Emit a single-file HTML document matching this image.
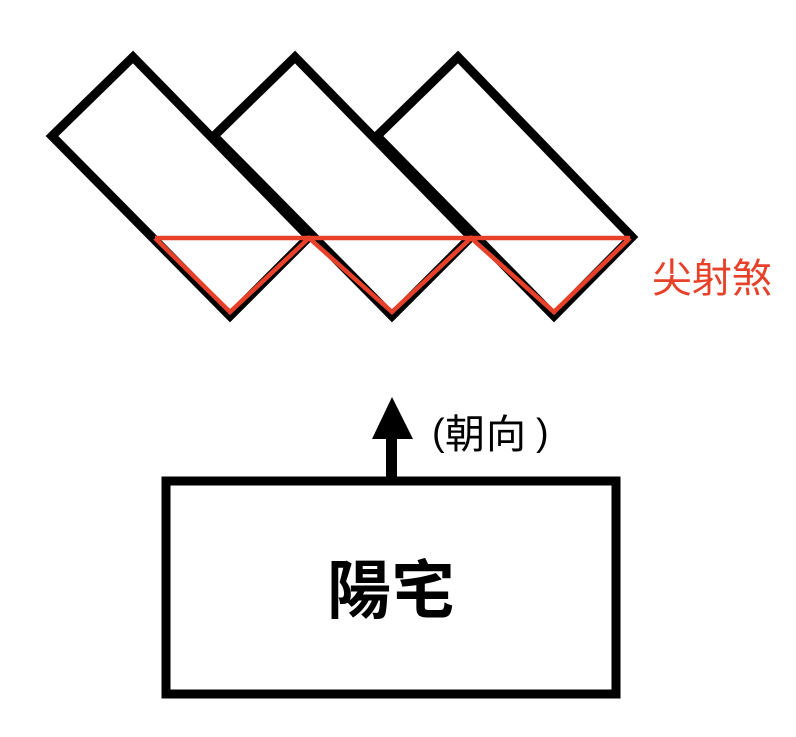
<!DOCTYPE html>
<html><head><meta charset="utf-8"><style>
html,body{margin:0;padding:0;background:#fff;}
</style></head><body>
<svg width="796" height="732" viewBox="0 0 796 732" xmlns="http://www.w3.org/2000/svg">
<g fill="#fff" stroke="#000" stroke-width="9" stroke-linejoin="miter">
<polygon points="133,57 52,136 230,316 309,237"/>
<polygon points="295,57 214,136 392,316 471,237"/>
<polygon points="458,57 377,136 554,316 632,237"/>
</g>
<g fill="none" stroke="#e8412a" stroke-width="4.5" stroke-linejoin="miter">
<line x1="155" y1="238" x2="630" y2="238"/>
<polyline points="155,238 230,312 309,238 392,312 471,238 554,312 630,238"/>
</g>
<text x="652" y="292" font-family="Noto Sans CJK TC, sans-serif" font-size="40" fill="#e8412a">尖射煞</text>
<rect x="386" y="432" width="11" height="50" fill="#000"/>
<polygon points="372,439 413,439 392,397" fill="#000"/>
<g font-family="Liberation Sans, sans-serif" font-size="38" fill="#000">
<text x="432" y="445">(</text>
<text x="536" y="445">)</text>
</g>
<g font-family="Noto Sans CJK TC, sans-serif" font-size="40" fill="#000">
<text x="445" y="448">朝</text>
<text x="486" y="448">向</text>
</g>
<rect x="166" y="481" width="450" height="213" fill="none" stroke="#000" stroke-width="9"/>
<text x="391" y="613" text-anchor="middle" font-family="Noto Sans CJK TC, sans-serif" font-weight="bold" font-size="64" fill="#000">陽宅</text>
</svg>
</body></html>
